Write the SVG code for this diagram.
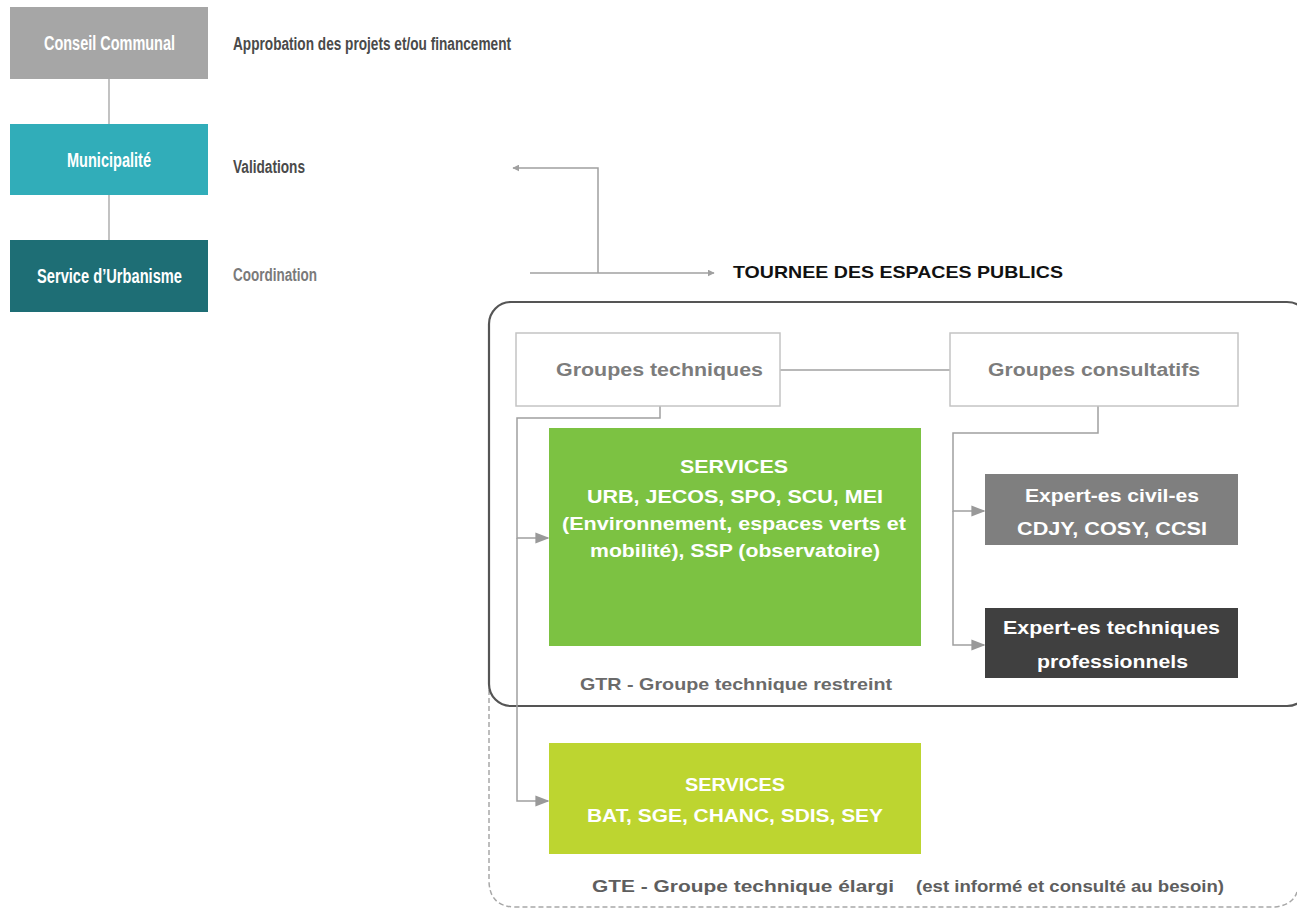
<svg xmlns="http://www.w3.org/2000/svg" width="1297" height="910" viewBox="0 0 1297 910">
<defs>
<style>
text{font-family:"Liberation Sans",Arial,sans-serif;font-weight:bold}
.wt{fill:#ffffff}
.conn{fill:none;stroke:#a0a0a0;stroke-width:1.5}
.gbox{fill:#ffffff;stroke:#c4c4c4;stroke-width:1.5}
.grp{fill:#7c7c7c;font-size:19px}
</style>
<marker id="arr" viewBox="0 0 10 10" refX="9" refY="5" markerWidth="7" markerHeight="7" orient="auto" markerUnits="userSpaceOnUse">
<path d="M0,0 L10,5 L0,10 z" fill="#a0a0a0"/>
</marker>
<marker id="arrB" viewBox="0 0 10 10" refX="9" refY="5" markerWidth="14" markerHeight="14" orient="auto" markerUnits="userSpaceOnUse">
<path d="M0,1 L10,5 L0,9 z" fill="#999999"/>
</marker>
</defs>
<rect width="1297" height="910" fill="#ffffff"/>

<g id="containers">
<path d="M489,690 L489,880 Q489,907 516,907 L1275,907 Q1293,905 1297,892" fill="none" stroke="#a8a8a8" stroke-width="1.5" stroke-dasharray="5,3"/>
<rect x="489" y="302" width="820" height="404" rx="22" ry="22" fill="none" stroke="#555555" stroke-width="2.2"/>
</g>

<g id="connectors">
<line x1="109" y1="79" x2="109" y2="124" stroke="#9a9a9a" stroke-width="1.2"/>
<line x1="109" y1="195" x2="109" y2="240" stroke="#9a9a9a" stroke-width="1.2"/>
<path class="conn" d="M598,273 L598,168 L513,168" marker-end="url(#arr)"/>
<path class="conn" d="M530,273 L714,273" marker-end="url(#arr)"/>
<line class="conn" x1="780" y1="370" x2="950" y2="370"/>
<path class="conn" d="M660,406 L660,418 L517,418 L517,538 L548,538" marker-end="url(#arrB)"/>
<path class="conn" d="M517,538 L517,801 L548,801" marker-end="url(#arrB)"/>
<path class="conn" d="M1098,406 L1098,433 L953,433 L953,511 L984,511" marker-end="url(#arrB)"/>
<path class="conn" d="M953,511 L953,645 L984,645" marker-end="url(#arrB)"/>
</g>

<g id="conseil">
<rect x="10" y="7" width="198" height="72" fill="#a6a6a6"/>
<text x="44" y="50" class="wt" font-size="20" textLength="131" lengthAdjust="spacingAndGlyphs">Conseil Communal</text>
</g>
<g id="municipalite">
<rect x="10" y="124" width="198" height="71" fill="#31adb9"/>
<text x="67" y="167" class="wt" font-size="20" textLength="84" lengthAdjust="spacingAndGlyphs">Municipalité</text>
</g>
<g id="urbanisme">
<rect x="10" y="240" width="198" height="72" fill="#1e6e75"/>
<text x="37" y="283" class="wt" font-size="20" textLength="145" lengthAdjust="spacingAndGlyphs">Service d’Urbanisme</text>
</g>

<g id="labels">
<text x="233" y="50" font-size="18" fill="#4a4a4a" textLength="278" lengthAdjust="spacingAndGlyphs">Approbation des projets et/ou financement</text>
<text x="233" y="173" font-size="18" fill="#4a4a4a" textLength="72" lengthAdjust="spacingAndGlyphs">Validations</text>
<text x="233" y="281" font-size="18" fill="#7a7a7a" textLength="84" lengthAdjust="spacingAndGlyphs">Coordination</text>
<text x="733" y="278" font-size="17" fill="#111111" textLength="330" lengthAdjust="spacingAndGlyphs">TOURNEE DES ESPACES PUBLICS</text>
</g>

<g id="groupes-techniques">
<rect class="gbox" x="516" y="333" width="264" height="73"/>
<text x="556" y="376" class="grp" textLength="207" lengthAdjust="spacingAndGlyphs">Groupes techniques</text>
</g>
<g id="groupes-consultatifs">
<rect class="gbox" x="950" y="333" width="288" height="73"/>
<text x="988" y="376" class="grp" textLength="212" lengthAdjust="spacingAndGlyphs">Groupes consultatifs</text>
</g>

<g id="gtr-services">
<rect x="549" y="428" width="372" height="218" fill="#7cc242"/>
<text x="680" y="473" class="wt" font-size="18" textLength="108" lengthAdjust="spacingAndGlyphs">SERVICES</text>
<text x="587" y="503" class="wt" font-size="18" textLength="296" lengthAdjust="spacingAndGlyphs">URB, JECOS, SPO, SCU, MEI</text>
<text x="562" y="530" class="wt" font-size="18" textLength="344" lengthAdjust="spacingAndGlyphs">(Environnement, espaces verts et</text>
<text x="590" y="557" class="wt" font-size="18" textLength="290" lengthAdjust="spacingAndGlyphs">mobilité),  SSP (observatoire)</text>
</g>
<text id="gtr-label" x="580" y="690" font-size="17" fill="#6a6a6a" textLength="312" lengthAdjust="spacingAndGlyphs">GTR - Groupe technique restreint</text>

<g id="expert-civil">
<rect x="985" y="474" width="253" height="71" fill="#7f7f7f"/>
<text x="1025" y="502" class="wt" font-size="19" textLength="174" lengthAdjust="spacingAndGlyphs">Expert-es civil-es</text>
<text x="1017" y="535" class="wt" font-size="19" textLength="190" lengthAdjust="spacingAndGlyphs">CDJY, COSY, CCSI</text>
</g>
<g id="expert-tech">
<rect x="985" y="608" width="253" height="70" fill="#404040"/>
<text x="1003" y="634" class="wt" font-size="19" textLength="217" lengthAdjust="spacingAndGlyphs">Expert-es techniques</text>
<text x="1037" y="668" class="wt" font-size="19" textLength="151" lengthAdjust="spacingAndGlyphs">professionnels</text>
</g>

<g id="gte-services">
<rect x="549" y="743" width="372" height="111" fill="#bdd530"/>
<text x="685" y="791" class="wt" font-size="19" textLength="100" lengthAdjust="spacingAndGlyphs">SERVICES</text>
<text x="587" y="822" class="wt" font-size="19" textLength="296" lengthAdjust="spacingAndGlyphs">BAT, SGE, CHANC, SDIS, SEY</text>
</g>
<g id="gte-label">
<text x="592" y="892" font-size="17" fill="#5e5e5e" textLength="302" lengthAdjust="spacingAndGlyphs">GTE - Groupe technique élargi</text>
<text x="916" y="892" font-size="17" fill="#5e5e5e" textLength="308" lengthAdjust="spacingAndGlyphs">(est informé et consulté au besoin)</text>
</g>
</svg>
